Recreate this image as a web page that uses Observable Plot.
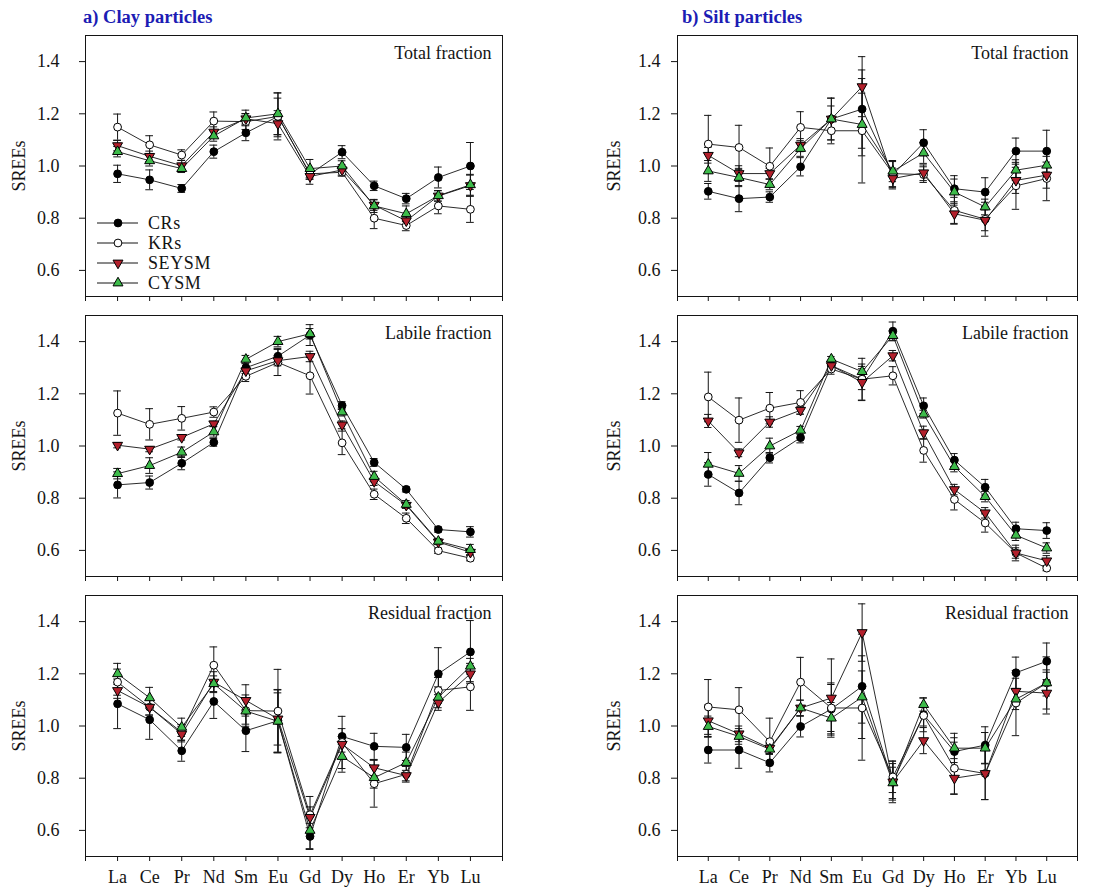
<!DOCTYPE html>
<html>
<head>
<meta charset="utf-8">
<script src="https://cdn.jsdelivr.net/npm/d3@7"></script>
<script src="https://cdn.jsdelivr.net/npm/@observablehq/plot@0.6"></script>
<style>
  body { margin: 0; background: #fff; }
  #root { position: relative; width: 1100px; height: 890px; overflow: hidden; font-family: "Liberation Serif", "Times New Roman", serif; }
  .abs { position: absolute; }
  .ttl { position: absolute; font-weight: bold; font-size: 18.5px; line-height: 20px; color: #1c1cb4; white-space: nowrap; }
</style>
</head>
<body>
<div id="root"></div>
<script>
// ---------------- DATA ----------------
const elements = ["La","Ce","Pr","Nd","Sm","Eu","Gd","Dy","Ho","Er","Yb","Lu"];
const seriesNames = ["CRs","KRs","SEYSM","CYSM"];
const fractionLabels = ["Total fraction","Labile fraction","Residual fraction"];
const particleTitles = ["a) Clay particles","b) Silt particles"];
const yTicks = [0.6, 0.8, 1.0, 1.2, 1.4];

// means: rows = CRs, KRs, SEYSM, CYSM ; err = half-width of error bar
const clayTotalMean = [
  [0.970,0.947,0.914,1.055,1.127,1.190,0.969,1.053,0.924,0.875,0.956,1.000],
  [1.149,1.081,1.042,1.172,1.170,1.190,0.970,0.976,0.800,0.772,0.847,0.834],
  [1.078,1.037,1.001,1.130,1.181,1.162,0.960,0.985,0.850,0.790,0.885,0.925],
  [1.055,1.020,0.990,1.115,1.184,1.200,0.990,1.000,0.847,0.817,0.886,0.928]];
const clayTotalErr = [
  [0.033,0.038,0.015,0.025,0.030,0.070,0.020,0.025,0.018,0.020,0.040,0.090],
  [0.050,0.035,0.020,0.035,0.030,0.090,0.020,0.015,0.040,0.020,0.030,0.050],
  [0.020,0.020,0.020,0.020,0.020,0.050,0.030,0.020,0.020,0.015,0.020,0.040],
  [0.020,0.020,0.015,0.020,0.030,0.080,0.035,0.020,0.025,0.030,0.020,0.040]];

const clayLabileMean = [
  [0.851,0.860,0.934,1.014,1.300,1.344,1.425,1.155,0.937,0.834,0.680,0.671],
  [1.126,1.083,1.106,1.130,1.267,1.320,1.269,1.012,0.815,0.723,0.599,0.570],
  [1.003,0.988,1.033,1.085,1.288,1.327,1.343,1.081,0.864,0.773,0.632,0.593],
  [0.894,0.925,0.976,1.054,1.332,1.400,1.430,1.130,0.883,0.776,0.635,0.603]];
const clayLabileErr = [
  [0.050,0.025,0.025,0.015,0.015,0.030,0.040,0.015,0.015,0.010,0.010,0.020],
  [0.085,0.060,0.045,0.020,0.020,0.050,0.070,0.045,0.020,0.020,0.010,0.010],
  [0.010,0.010,0.010,0.010,0.010,0.020,0.020,0.015,0.015,0.010,0.010,0.010],
  [0.020,0.030,0.020,0.020,0.015,0.020,0.020,0.015,0.020,0.015,0.010,0.020]];

const clayResidualMean = [
  [1.085,1.024,0.905,1.094,0.982,1.020,0.577,0.960,0.922,0.918,1.200,1.284],
  [1.168,1.072,0.976,1.233,1.059,1.057,0.660,0.937,0.779,0.815,1.136,1.150],
  [1.136,1.072,0.969,1.168,1.098,1.027,0.650,0.930,0.840,0.810,1.090,1.200],
  [1.200,1.108,0.995,1.162,1.057,1.018,0.600,0.883,0.802,0.860,1.110,1.229]];
const clayResidualErr = [
  [0.095,0.075,0.040,0.065,0.080,0.120,0.050,0.030,0.050,0.050,0.100,0.120],
  [0.050,0.030,0.030,0.070,0.060,0.160,0.070,0.100,0.090,0.030,0.050,0.090],
  [0.030,0.030,0.030,0.040,0.060,0.100,0.040,0.030,0.030,0.020,0.030,0.030],
  [0.040,0.040,0.035,0.030,0.050,0.120,0.070,0.060,0.040,0.040,0.040,0.030]];

const siltTotalMean = [
  [0.903,0.875,0.881,0.997,1.180,1.218,0.967,1.089,0.913,0.900,1.057,1.057],
  [1.084,1.071,0.999,1.148,1.135,1.135,0.971,0.967,0.830,0.796,0.924,0.952],
  [1.041,0.971,0.971,1.080,1.180,1.304,0.952,0.974,0.817,0.792,0.945,0.965],
  [0.981,0.956,0.929,1.067,1.180,1.159,0.980,1.050,0.900,0.843,0.984,1.003]];
const siltTotalErr = [
  [0.030,0.050,0.020,0.035,0.050,0.150,0.050,0.050,0.050,0.055,0.050,0.080],
  [0.110,0.085,0.070,0.060,0.050,0.200,0.050,0.030,0.050,0.065,0.090,0.085],
  [0.030,0.030,0.020,0.025,0.080,0.115,0.040,0.030,0.040,0.040,0.050,0.050],
  [0.040,0.035,0.020,0.030,0.080,0.120,0.040,0.040,0.050,0.030,0.040,0.050]];

const siltLabileMean = [
  [0.891,0.820,0.955,1.032,1.308,1.256,1.440,1.154,0.946,0.842,0.683,0.676],
  [1.188,1.099,1.145,1.167,1.295,1.256,1.269,0.983,0.795,0.705,0.590,0.532],
  [1.096,0.974,1.092,1.137,1.308,1.244,1.346,1.051,0.833,0.744,0.590,0.560],
  [0.930,0.895,1.000,1.060,1.333,1.285,1.423,1.122,0.921,0.806,0.658,0.609]];
const siltLabileErr = [
  [0.045,0.045,0.020,0.020,0.020,0.040,0.035,0.030,0.025,0.030,0.025,0.030],
  [0.095,0.085,0.060,0.045,0.020,0.080,0.035,0.045,0.040,0.035,0.030,0.010],
  [0.025,0.015,0.020,0.015,0.015,0.070,0.020,0.025,0.020,0.020,0.020,0.020],
  [0.045,0.030,0.030,0.015,0.010,0.020,0.020,0.015,0.020,0.020,0.020,0.020]];

const siltResidualMean = [
  [0.908,0.908,0.859,0.998,1.065,1.152,0.786,1.043,0.902,0.927,1.204,1.248],
  [1.073,1.062,0.940,1.168,1.069,1.069,0.805,1.040,0.838,0.818,1.088,1.165],
  [1.020,0.970,0.915,1.069,1.107,1.358,0.786,0.944,0.800,0.818,1.133,1.126],
  [0.998,0.960,0.911,1.069,1.030,1.111,0.782,1.082,0.915,0.915,1.103,1.165]];
const siltResidualErr = [
  [0.050,0.070,0.035,0.040,0.100,0.200,0.080,0.065,0.070,0.070,0.060,0.070],
  [0.105,0.085,0.090,0.095,0.090,0.200,0.060,0.040,0.100,0.100,0.125,0.100],
  [0.060,0.030,0.020,0.030,0.150,0.110,0.070,0.050,0.060,0.100,0.050,0.080],
  [0.040,0.030,0.020,0.030,0.060,0.100,0.060,0.025,0.040,0.060,0.040,0.050]];

// ---------------- STYLE ----------------
const FONT = "'Liberation Serif', 'Times New Roman', serif";
const INK = "#141414";
const markerStyle = {
  CRs:   {symbol: "circle",   fill: "#000000", r: 3.9, rotate: 0},
  KRs:   {symbol: "circle",   fill: "#ffffff", r: 3.9, rotate: 0},
  SEYSM: {symbol: "triangle", fill: "#b3202c", r: 3.7, rotate: 180},
  CYSM:  {symbol: "triangle", fill: "#3dbb4a", r: 3.7, rotate: 0}
};

function toRows(mean, err) {
  const out = [];
  seriesNames.forEach((s, k) => {
    elements.forEach((el, j) => {
      out.push({series: s, el, i: j + 1, v: mean[k][j], e: err[k][j]});
    });
  });
  return out;
}

const root = document.getElementById("root");
const frameTops = [35, 315, 595];
const FRAME_H = 261;

function panel(mean, err, col, row) {
  const data = toRows(mean, err);
  const isLeft = col === 0, isBottom = row === 2;
  const ml = isLeft ? 85 : 117, mr = isLeft ? 18 : 23, width = isLeft ? 520 : 540;
  const mt = 5, mb = isBottom ? 34 : 10;
  const capW = 0.12;
  const marks = [
    Plot.axisX({ticks: d3.range(0, 14), tickSize: 5, tickPadding: 9, stroke: INK,
      tickFormat: isBottom ? (t => elements[t - 1] ?? "") : (() => ""), label: null}),
    Plot.axisY({ticks: yTicks, tickSize: 6, tickPadding: isLeft ? 20 : 11, stroke: INK,
      tickFormat: d3.format(".1f"), label: "SREEs", labelAnchor: "center",
      labelOffset: isLeft ? 73 : 70, labelArrow: "none"}),
    Plot.frame({stroke: INK, strokeWidth: 1}),
    Plot.line(data, {x: "i", y: "v", z: "series", stroke: INK, strokeWidth: 0.9}),
    Plot.ruleX(data, {x: "i", y1: d => d.v - d.e, y2: d => d.v + d.e, stroke: INK, strokeWidth: 1}),
    Plot.ruleY(data, {y: d => d.v + d.e, x1: d => d.i - capW, x2: d => d.i + capW, stroke: INK, strokeWidth: 1}),
    Plot.ruleY(data, {y: d => d.v - d.e, x1: d => d.i - capW, x2: d => d.i + capW, stroke: INK, strokeWidth: 1}),
    ...seriesNames.map(s => {
      const m = markerStyle[s];
      return Plot.dot(data.filter(d => d.series === s), {
        x: "i", y: "v", symbol: m.symbol, fill: m.fill, r: m.r, rotate: m.rotate,
        stroke: "#000", strokeWidth: 1
      });
    }),
    Plot.text([fractionLabels[row]], {text: d => d, frameAnchor: "top-right",
      dx: isLeft ? -11 : -9, dy: 18, lineAnchor: "middle", textAnchor: "end",
      fill: INK, fontSize: 18})
  ];
  const svg = Plot.plot({
    width, height: mt + FRAME_H + mb,
    marginTop: mt, marginBottom: mb, marginLeft: ml, marginRight: mr,
    x: {domain: [0, 13]},
    y: {domain: [0.5, 1.5]},
    style: {fontFamily: FONT, fontSize: "18px", color: INK, background: "transparent", overflow: "visible"},
    marks
  });
  svg.classList.add("abs");
  svg.style.left = (isLeft ? 0 : 560) + "px";
  svg.style.top = (frameTops[row] - mt) + "px";
  root.appendChild(svg);
}

panel(clayTotalMean, clayTotalErr, 0, 0);
panel(clayLabileMean, clayLabileErr, 0, 1);
panel(clayResidualMean, clayResidualErr, 0, 2);
panel(siltTotalMean, siltTotalErr, 1, 0);
panel(siltLabileMean, siltLabileErr, 1, 1);
panel(siltResidualMean, siltResidualErr, 1, 2);

// titles
[[83, particleTitles[0]], [682, particleTitles[1]]].forEach(([x, t]) => {
  const d = document.createElement("div");
  d.className = "ttl";
  d.style.left = x + "px";
  d.style.top = "7px";
  d.textContent = t;
  root.appendChild(d);
});

// legend (inside top-left panel)
const leg = d3.select(root).append("svg")
  .attr("class", "abs").attr("width", 220).attr("height", 300)
  .style("left", "0px").style("top", "0px").style("overflow", "visible");
const legRowY = [223, 243, 263, 283];
seriesNames.forEach((s, k) => {
  const y = legRowY[k], m = markerStyle[s];
  const g = leg.append("g");
  g.append("line").attr("x1", 97).attr("x2", 138).attr("y1", y).attr("y2", y)
    .attr("stroke", INK).attr("stroke-width", 1);
  const sym = m.symbol === "circle" ? d3.symbolCircle : d3.symbolTriangle;
  g.append("path").attr("d", d3.symbol(sym, m.r * m.r * Math.PI)())
    .attr("transform", `translate(118,${y}) rotate(${m.rotate})`)
    .attr("fill", m.fill).attr("stroke", "#000").attr("stroke-width", 1);
  g.append("text").attr("x", 148).attr("y", y).attr("dy", "0.35em")
    .attr("font-family", FONT).attr("font-size", 18).attr("letter-spacing", 0.6)
    .attr("fill", INK).text(s);
});
</script>
</body>
</html>
